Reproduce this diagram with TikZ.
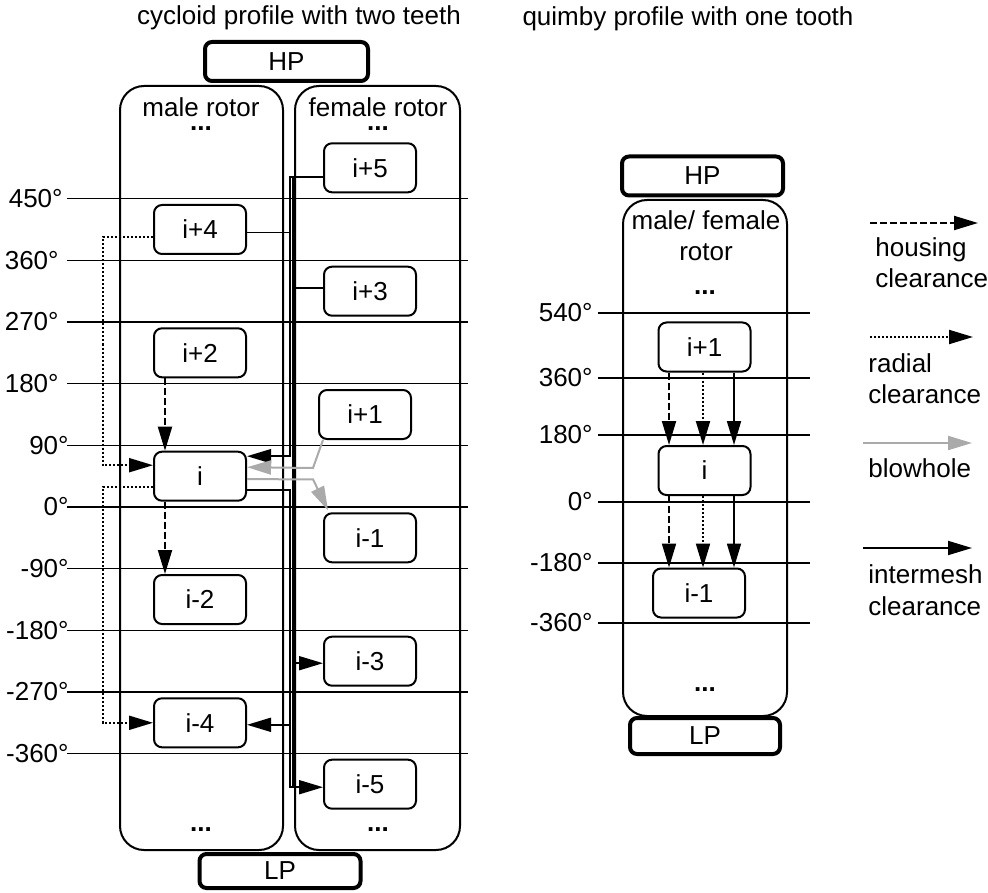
\documentclass[tikz,border=0pt]{standalone}
\usepackage{fontspec}
\setmainfont{Liberation Sans}
\usetikzlibrary{arrows.meta,calc}
\definecolor{blowgray}{RGB}{170,170,170}

\begin{document}
\begin{tikzpicture}[x=0.5pt, y=-0.5pt,
    font=\fontsize{13}{15}\selectfont,
    >={Triangle[length=12pt,width=7pt]},
    chamber/.style={draw, fill=white, line width=1pt, rounded corners=4pt,
      minimum width=46pt, minimum height=24.5pt, inner sep=0pt},
    port/.style={draw, fill=white, line width=2pt, rounded corners=3.5pt,
      minimum height=19.5pt, inner sep=0pt},
    rotor/.style={line width=1pt, rounded corners=12pt},
    rotortext/.style={inner sep=0pt, align=center},
    angleline/.style={line width=0.8pt},
    housing/.style={line width=1pt, dash pattern=on 3.5pt off 1.5pt},
    radial/.style={line width=1pt, dash pattern=on 1pt off 1pt},
    blowhole/.style={line width=1pt, blowgray},
    intermesh/.style={line width=0.9pt},
    deg/.style={anchor=east, inner sep=0pt},
    legend/.style={anchor=base west, inner sep=0pt}]

  \useasboundingbox (0,0) rectangle (988,892);

  \node (cyctitle) at (299,18) {cycloid profile with two teeth};
  \node (quititle) at (688,19) {quimby profile with one tooth};

  % cycloid, two rotors
  \foreach \k/\xl in {5/63,4/59,3/59,2/59,1/69,0/69,-1/69,-2/69,-3/69,-4/69} {
    \pgfmathtruncatemacro\angval{90*\k}
    \draw[angleline] (67,{507-61.67*\k}) -- (468,{507-61.67*\k});
    \node[deg] (lbl\angval) at (\xl,{507-61.67*\k}) {\angval°};
  }
  \draw[rotor] (120,86) rectangle (283,850);
  \draw[rotor] (295,86) rectangle (460,850);
  \node[rotortext] (malelbl) at (201,114) {male rotor\\[-8pt]\textbf{...}};
  \node[rotortext] (malebot) at (201,830) {\textbf{...}};
  \node[rotortext] (femlbl) at (378,114) {female rotor\\[-8pt]\textbf{...}};
  \node[rotortext] (fembot) at (378,830) {\textbf{...}};
  \node[port, minimum width=81.5pt] (hpcyc) at (286.5,61.5) {HP};
  \node[port, minimum width=80.5pt, minimum height=17pt] (lpcyc) at (280,871) {LP};

  \node[chamber] (p4) at (200,229.5) {i+4};
  \node[chamber] (p2) at (200,352.8) {i+2};
  \node[chamber] (i0) at (200,476.2) {i};
  \node[chamber] (n2) at (200,599.5) {i-2};
  \node[chamber] (n4) at (200,722.8) {i-4};
  \node[chamber] (p5) at (370,167.8) {i+5};
  \node[chamber] (p3) at (370,291.2) {i+3};
  \node[chamber] (p1) at (365,414.5) {i+1};
  \node[chamber] (n1) at (370,537.8) {i-1};
  \node[chamber] (n3) at (370,661.2) {i-3};
  \node[chamber] (n5) at (370,784.2) {i-5};

  \draw[housing,->] ($(p2.south)+(-35,0)$) -- ($(i0.north)+(-35,0)$);
  \draw[housing,->] ($(i0.south)+(-35,0)$) -- ($(n2.north)+(-35,0)$);
  \draw[radial,->] ($(p4.west)+(0,8)$) -| ($(i0.west)+(-50,-11)$) -- ($(i0.west)+(0,-11)$);
  \draw[radial,->] ($(i0.west)+(0,11)$) -| ($(n4.west)+(-50,0)$) -- (n4.west);
  \draw[intermesh,->] ($(p5.west)+(0,9)$) -| ($(i0.east)+(43,-20)$) -- ($(i0.east)+(0,-20)$);
  \draw[intermesh] ($(p4.east)+(0,3)$) -- ($(p4.east)+(43,3)$);
  \draw[intermesh] ($(p5.west)+(-30,9)$) -- ($(n5.west)+(-30,3)$);
  \draw[intermesh] ($(p3.west)+(0,-3)$) -- ($(p3.west)+(-30,-3)$);
  \draw[intermesh,->] ($(n3.west)+(-30,2)$) -- ($(n3.west)+(0,2)$);
  \draw[intermesh,->] ($(i0.east)+(0,14)$) -| ($(n5.west)+(-33,3)$) -- ($(n5.west)+(0,3)$);
  \draw[intermesh,->] ($(n4.east)+(43,2)$) -- ($(n4.east)+(0,2)$);
  \draw[blowhole,->] ($(p1.south west)+(5,0)$) -- ($(p1.south west)+(-5,28)$) -- ($(i0.east)+(0,-9)$);
  \draw[blowhole,->] ($(i0.east)+(0,3)$) -- ($(n1.north west)+(-10,-33)$) -- ($(n1.north west)+(5,-2)$);

  % quimby, one rotor
  \foreach \y/\a/\n in {313/540/a, 378/360/b, 435/180/c, 502/0/d, 563/-180/e, 623/-360/f} {
    \draw[angleline] (598,\y) -- (810,\y);
    \node[deg] (q\n) at (593,\y) {\a°};
  }
  \draw[rotor] (623,200) rectangle (787,716);
  \node[rotortext] (quilbla) at (706,220) {male/ female};
  \node[rotortext] (quilblb) at (706,252) {rotor};
  \node[rotortext] (quitop) at (705,293) {\textbf{...}};
  \node[rotortext] (quibot) at (705,690) {\textbf{...}};
  \node[port, minimum width=80.5pt] (hpqui) at (702.5,176) {HP};
  \node[port, minimum width=75pt, minimum height=18pt] (lpqui) at (705,736) {LP};

  \node[chamber] (q1) at (704.5,347) {i+1};
  \node[chamber] (q0) at (704.5,470.5) {i};
  \node[chamber] (qn1) at (699,593) {i-1};
  \foreach \dx/\sty in {-35.5/housing, -1.5/radial, 29.5/intermesh} {
    \draw[\sty,->] ($(q1.south)+(\dx,0)$) -- ($(q0.north)+(\dx,0)$);
    \draw[\sty,->] ($(q0.south)+(\dx,0)$) coordinate (s) -- (s |- qn1.north);
  }

  % legend
  \coordinate (lgh1) at (870,223);
  \coordinate (lgh2) at (978,223);
  \coordinate (lgr1) at (870,337);
  \coordinate (lgr2) at (973,337);
  \coordinate (lgb1) at (863,443);
  \coordinate (lgb2) at (972,443);
  \coordinate (lgi1) at (863,548);
  \coordinate (lgi2) at (972,548);
  \draw[housing,->] (lgh1) -- (lgh2);
  \draw[radial,->] (lgr1) -- (lgr2);
  \draw[blowhole,->] (lgb1) -- (lgb2);
  \draw[intermesh,->] (lgi1) -- (lgi2);
  \node[legend] (lghtxt) at (875,257) {housing};
  \node[legend] (lghtxt2) at (875,288) {clearance};
  \node[legend] (lgrtxt) at (868,372) {radial};
  \node[legend] (lgrtxt2) at (868,403) {clearance};
  \node[legend] (lgbtxt) at (868,477) {blowhole};
  \node[legend] (lgitxt) at (868,583) {intermesh};
  \node[legend] (lgitxt2) at (868,615) {clearance};
\end{tikzpicture}
\end{document}
